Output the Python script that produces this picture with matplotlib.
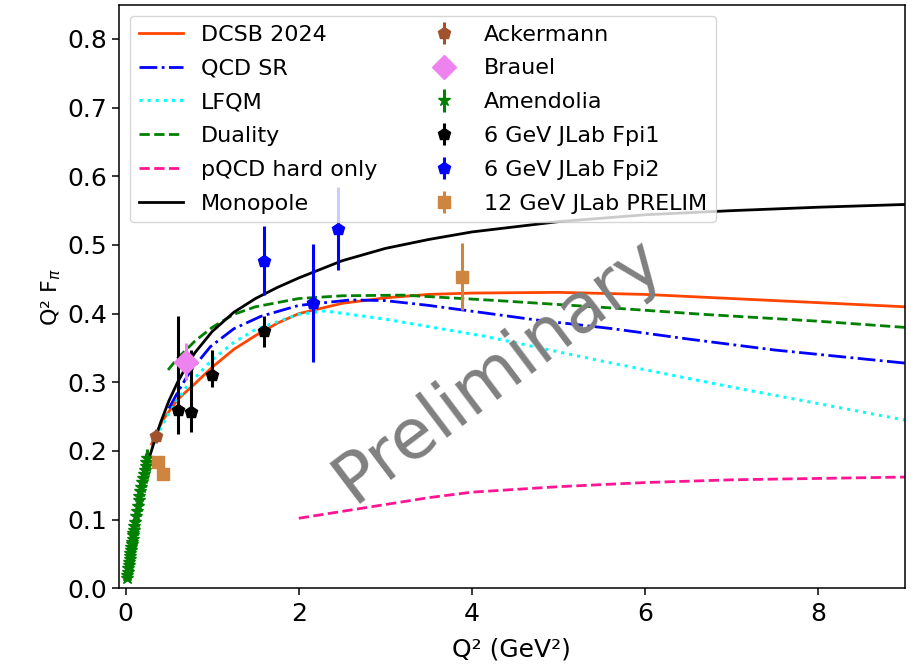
import numpy as np
import matplotlib
matplotlib.use("Agg")
import matplotlib.pyplot as plt

# ---- model curves (Q^2 in GeV^2, Q^2 F_pi) ----
dcsb_q2 = [0.30, 0.43, 0.60, 0.80, 1.00, 1.25, 1.50, 1.75, 2.00, 2.50, 3.00, 3.50, 4.00, 5.00, 6.00, 7.00, 8.00, 9.00]
dcsb_f = [0.210, 0.245, 0.275, 0.298, 0.322, 0.348, 0.368, 0.386, 0.400, 0.415, 0.423, 0.428, 0.430, 0.431, 0.428, 0.422, 0.416, 0.410]

qcdsr_q2 = [0.50, 0.60, 0.74, 0.98, 1.25, 1.56, 2.00, 2.60, 3.00, 3.50, 4.15, 4.73, 5.63, 6.50, 7.50, 9.00]
qcdsr_f = [0.262, 0.285, 0.315, 0.352, 0.378, 0.396, 0.412, 0.420, 0.419, 0.412, 0.401, 0.391, 0.378, 0.363, 0.347, 0.328]

lfqm_q2 = [0.35, 0.50, 0.70, 1.00, 1.25, 1.50, 2.00, 2.30, 3.00, 4.15, 5.50, 7.00, 9.00]
lfqm_f = [0.220, 0.255, 0.293, 0.333, 0.358, 0.377, 0.399, 0.404, 0.392, 0.367, 0.331, 0.293, 0.245]

dual_q2 = [0.49, 0.60, 0.80, 1.00, 1.25, 1.50, 2.00, 2.50, 3.20, 4.30, 5.65, 6.67, 8.00, 9.00]
dual_f = [0.318, 0.335, 0.360, 0.380, 0.399, 0.410, 0.422, 0.426, 0.427, 0.419, 0.408, 0.399, 0.389, 0.380]

pqcd_q2 = [2.0, 2.5, 3.0, 3.5, 4.0, 5.0, 6.0, 7.0, 8.0, 9.0]
pqcd_f = [0.102, 0.112, 0.122, 0.132, 0.140, 0.148, 0.154, 0.158, 0.160, 0.162]

mono_q2 = [0.28, 0.35, 0.40, 0.50, 0.60, 0.70, 0.80, 1.00, 1.25, 1.50, 1.75, 2.00, 2.50, 3.00, 3.50, 4.00, 5.00, 6.00, 7.00, 8.00, 9.00]
mono_f = [0.193, 0.221, 0.240, 0.273, 0.300, 0.323, 0.343, 0.374, 0.402, 0.422, 0.438, 0.452, 0.477, 0.495, 0.508, 0.519, 0.534, 0.544, 0.550, 0.555, 0.559]

# ---- data ----
ack_q2 = [0.35]
ack_f = [0.222]
ack_err = [0.010]

brauel_q2 = [0.70]
brauel_f = [0.330]
brauel_err = [0.027]

amend_q2 = [0.015, 0.020, 0.025, 0.030, 0.035, 0.040, 0.045, 0.050, 0.055, 0.060, 0.065, 0.070, 0.075,
            0.080, 0.085, 0.090, 0.095, 0.100, 0.110, 0.120, 0.130, 0.140, 0.150, 0.160, 0.170, 0.180,
            0.190, 0.200, 0.210, 0.220, 0.230, 0.240, 0.250]
amend_f = [0.015, 0.020, 0.024, 0.029, 0.034, 0.038, 0.043, 0.047, 0.051, 0.056, 0.060, 0.065, 0.068,
           0.072, 0.077, 0.080, 0.085, 0.090, 0.097, 0.105, 0.113, 0.120, 0.128, 0.134, 0.142, 0.148,
           0.155, 0.160, 0.166, 0.172, 0.178, 0.184, 0.190]
amend_err = [0.004, 0.004, 0.005, 0.005, 0.005, 0.006, 0.006, 0.006, 0.006, 0.007, 0.007, 0.007, 0.007,
             0.008, 0.008, 0.008, 0.008, 0.008, 0.009, 0.009, 0.009, 0.010, 0.010, 0.010, 0.011, 0.011,
             0.011, 0.012, 0.012, 0.012, 0.013, 0.013, 0.013]

fpi1_q2 = [0.60, 0.75, 1.00, 1.60]
fpi1_f = [0.260, 0.257, 0.311, 0.374]
fpi1_lo = [0.035, 0.030, 0.018, 0.022]
fpi1_hi = [0.136, 0.090, 0.036, 0.022]

fpi2_q2 = [1.60, 2.16, 2.45]
fpi2_f = [0.477, 0.416, 0.524]
fpi2_err = [0.050, 0.086, 0.060]

prelim_q2 = [0.37, 0.43, 3.88]
prelim_f = [0.184, 0.166, 0.454]
prelim_err = [0.006, 0.006, 0.049]

fig = plt.figure(figsize=(9.13, 6.67), dpi=100)
ax = fig.add_axes([0.130, 0.118, 0.861, 0.875])

LW = 2.0
ax.plot(dcsb_q2, dcsb_f, color="orangered", lw=LW, label="DCSB 2024")
ax.plot(qcdsr_q2, qcdsr_f, color="blue", ls="-.", lw=LW, label="QCD SR")
ax.plot(lfqm_q2, lfqm_f, color="cyan", ls=":", lw=2.2, label="LFQM")
ax.plot(dual_q2, dual_f, color="green", ls="--", lw=LW, label="Duality")
ax.plot(pqcd_q2, pqcd_f, color="deeppink", ls="--", lw=LW, label="pQCD hard only")
ax.plot(mono_q2, mono_f, color="black", lw=LW, label="Monopole")

EW = 2.2
ax.errorbar(ack_q2, ack_f, yerr=ack_err, fmt="p", color="sienna", ms=9, lw=EW, label="Ackermann")
ax.errorbar(brauel_q2, brauel_f, yerr=brauel_err, fmt="D", color="violet", ms=12, lw=EW, label="Brauel")
ax.errorbar(amend_q2, amend_f, yerr=amend_err, fmt="*", color="green", ms=9, lw=EW, label="Amendolia")
ax.errorbar(fpi1_q2, fpi1_f, yerr=[fpi1_lo, fpi1_hi], fmt="p", color="black", ms=9, lw=EW,
            label="6 GeV JLab Fpi1")
ax.errorbar(fpi2_q2, fpi2_f, yerr=fpi2_err, fmt="p", color="blue", ms=9, lw=EW, label="6 GeV JLab Fpi2")
ax.errorbar(prelim_q2, prelim_f, yerr=prelim_err, fmt="s", color="peru", ms=9, lw=EW,
            label="12 GeV JLab PRELIM")

ax.text(4.3, 0.318, "Preliminary", fontsize=50, color="gray", rotation=37,
        ha="center", va="center")

ax.set_xlim(-0.08, 9)
ax.set_ylim(0, 0.85)
ax.set_yticks(np.arange(0, 0.81, 0.1))
ax.tick_params(labelsize=18, length=5, width=1.1)
ax.tick_params(axis="x", pad=5)
for s in ax.spines.values():
    s.set_linewidth(1.1)
ax.set_xlabel("Q² (GeV²)", fontsize=18, labelpad=8)
ax.set_ylabel("Q² F$_\\pi$", fontsize=16, labelpad=3)

ax.legend(loc="upper left", ncol=2, fontsize=16, labelspacing=0.62)

plt.savefig("out.png", dpi=100)
